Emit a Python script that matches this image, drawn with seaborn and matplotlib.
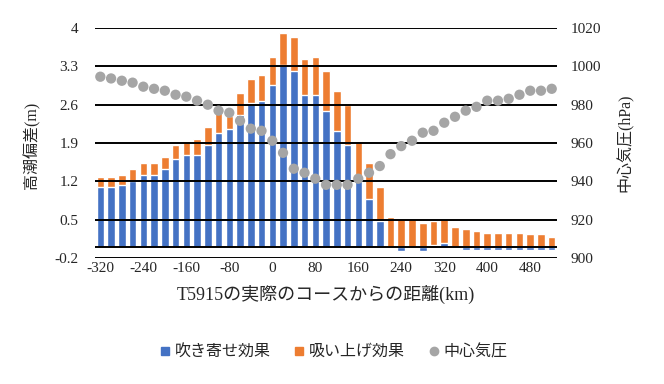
import numpy as np
import pandas as pd
import seaborn as sns
import matplotlib.pyplot as plt
from matplotlib.lines import Line2D

# distance from the actual track of T5915 (km), every 20 km
distance = list(range(-320, 521, 20))

# surge components (m)
wind_setup = [1.10, 1.10, 1.14, 1.21, 1.32, 1.32, 1.43, 1.61, 1.69, 1.69, 1.87,
              2.09, 2.16, 2.42, 2.64, 2.67, 2.96, 3.33, 3.22, 2.78, 2.78,
              2.49, 2.12, 1.87, 1.20, 0.88, 0.48, 0.00, -0.07, 0.00, -0.07,
              0.04, 0.08, 0.00, -0.05, -0.05, -0.05, -0.05, -0.05, -0.05,
              -0.05, -0.05, -0.05]
suction = [0.18, 0.18, 0.18, 0.22, 0.22, 0.22, 0.22, 0.26, 0.25, 0.29, 0.33,
           0.38, 0.24, 0.40, 0.43, 0.48, 0.52, 0.58, 0.62, 0.66, 0.70,
           0.73, 0.73, 0.73, 0.74, 0.66, 0.62, 0.55, 0.52, 0.52, 0.44,
           0.44, 0.44, 0.37, 0.33, 0.30, 0.26, 0.26, 0.26, 0.26, 0.23,
           0.23, 0.19]

# central pressure (hPa)
pressure = [994.6, 993.7, 992.5, 991.5, 989.4, 988.3, 987.3, 985.2, 984.2, 982.1,
            980.0, 976.9, 975.8, 971.6, 967.5, 966.4, 961.2, 954.9, 946.6, 944.5,
            941.4, 938.2, 938.2, 938.2, 941.4, 944.5, 948.0, 954.2, 958.4, 961.2,
            965.4, 966.4, 970.6, 973.7, 976.9, 978.9, 982.1, 982.1, 983.1, 985.2,
            987.3, 987.3, 988.3]

df = pd.DataFrame({"distance": distance, "wind": wind_setup,
                   "suction": suction, "pressure": pressure})
# orange sits on top of positive blue, or starts at zero when blue is negative
df["top"] = np.where(df["wind"] > 0, df["wind"] + df["suction"], df["suction"])

blue = "#4472C4"
orange = "#ED7D31"
gray = "#A5A5A5"

sns.set_theme(style="white")
plt.rcParams["font.family"] = ["Liberation Serif", "Noto Sans CJK JP"]

fig, ax = plt.subplots(figsize=(6.64, 3.84), dpi=100)
fig.subplots_adjust(left=0.143, right=0.839, top=0.927, bottom=0.328)

sns.barplot(data=df, x="distance", y="top", native_scale=True, width=0.7,
            color=orange, saturation=1, ax=ax, zorder=1)
sns.barplot(data=df, x="distance", y="wind", native_scale=True, width=0.7,
            color=blue, saturation=1, ax=ax, zorder=1)

ax.set_xlim(-330, 530)
ax.set_ylim(-0.2, 4)
left_ticks = [-0.2, 0.5, 1.2, 1.9, 2.6, 3.3, 4]
ax.set_yticks(left_ticks)
ax.set_yticklabels(["-0.2", "0.5", "1.2", "1.9", "2.6", "3.3", "4"])
ax.set_xticks(range(-320, 481, 80))
ax.set_xticklabels([str(v) for v in range(-320, 481, 80)])
for y in left_ticks:
    ax.axhline(y, color="black", lw=1.4, zorder=3)
ax.axhline(0, color="black", lw=1.4, zorder=3)
ax.tick_params(axis="both", length=0, labelsize=11)
ax.tick_params(axis="y", pad=12)
ax.tick_params(axis="x", pad=3)
for s in ax.spines.values():
    s.set_visible(False)
ax.set_xlabel("T5915の実際のコースからの距離(km)", fontsize=13, labelpad=7)
ax.set_ylabel("高潮偏差(m)", fontsize=11.5)
ax.yaxis.set_label_coords(-0.118, 0.49)

ax2 = ax.twinx()
sns.scatterplot(data=df, x="distance", y="pressure", color=gray, s=55,
                edgecolor="none", ax=ax2, zorder=4)
ax2.set_ylim(900, 1020)
ax2.set_yticks(range(900, 1021, 20))
ax2.tick_params(axis="y", length=0, labelsize=11, pad=10)
for s in ax2.spines.values():
    s.set_visible(False)
ax2.set_ylabel("中心気圧(hPa)", fontsize=11.5, rotation=90)
ax2.yaxis.set_label_coords(1.128, 0.5)
ax2.grid(False)
ax2.set_xlim(-330, 530)

handles = [
    Line2D([], [], marker="s", color=blue, ls="none", markersize=6),
    Line2D([], [], marker="s", color=orange, ls="none", markersize=6),
    Line2D([], [], marker="o", color=gray, ls="none", markersize=6),
]
fig.legend(handles, ["吹き寄せ効果", "吸い上げ効果", "中心気圧"],
           loc="center", bbox_to_anchor=(0.5, 0.083), ncol=3, frameon=False,
           fontsize=11.5, handletextpad=0.1, columnspacing=1.3,
           handlelength=1.0)

fig.savefig("out.png", dpi=100)
